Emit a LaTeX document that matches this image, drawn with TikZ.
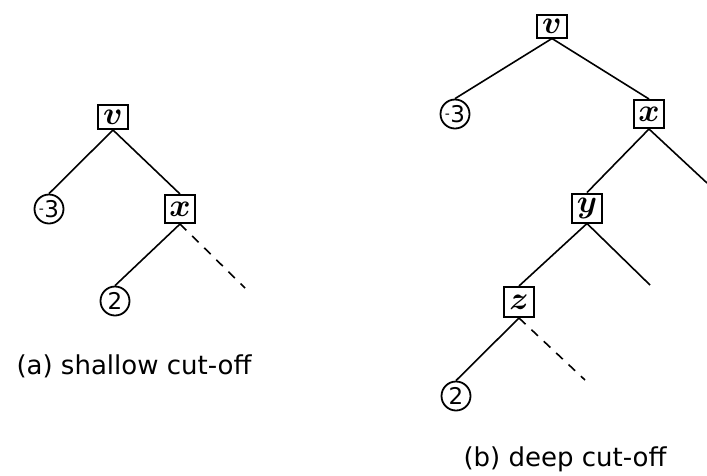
\documentclass[tikz,border=0pt]{standalone}
\usepackage{graphicx}
\usepackage{fontspec}
\newfontfamily\capfont{DejaVu Sans}
\newcommand\bigvar[1]{\scalebox{1.3}{$#1$}}
\newcommand\negthree{\raisebox{4pt}{\fontsize{14}{14}\selectfont -}\kern0.5pt 3}
\begin{document}
\begin{tikzpicture}[x=1pt,y=-1pt,
  edge/.style={line width=1.6pt},
  cutedge/.style={line width=1.6pt, dash pattern=on 9pt off 8pt},
  varbox/.style={draw, line width=2pt, inner sep=0pt, minimum width=30pt, minimum height=26pt,
    font=\fontsize{24.88}{25}\selectfont\boldmath},
  leaf/.style={draw, circle, line width=1.8pt, inner sep=0pt, minimum size=29pt,
    font=\capfont\fontsize{23}{23}\selectfont},
  caption/.style={font=\capfont\fontsize{26}{26}\selectfont, inner sep=0pt}]
\useasboundingbox (0,0) rectangle (707,475);
% (a) shallow cut-off
\node[varbox, minimum height=24pt] (lv) at (113,117) {\bigvar{v}};
\node[leaf] (lm3) at (49,209) {\negthree};
\node[varbox, minimum height=28pt] (lx) at (180,209) {\bigvar{x}};
\node[leaf] (l2) at (115,301) {2};
\coordinate (lcut) at (245,288);
\draw[edge] (lv.south) -- (lm3.north);
\draw[edge] (lv.south) -- (lx.north);
\draw[edge] (lx.south) -- (l2.north);
\draw[cutedge] (lx.south) -- (lcut);
\node[caption] (capa) at (134,366) {(a) shallow cut-off};
% (b) deep cut-off
\node[varbox, minimum height=23pt] (rv) at (552,26) {\bigvar{v}};
\node[leaf] (rm3) at (455,114) {\negthree};
\node[varbox, minimum height=28pt] (rx) at (649,114) {\bigvar{x}};
\coordinate (rxr) at (707,183);
\node[varbox, minimum height=29pt] (ry) at (587,208) {\bigvar{y}};
\coordinate (ryr) at (650,285);
\node[varbox, minimum height=30pt] (rz) at (519,302) {\bigvar{z}};
\node[leaf] (r2) at (456,396) {2};
\coordinate (rcut) at (585,380);
\draw[edge] (rv.south) -- (rm3.north);
\draw[edge] (rv.south) -- (rx.north);
\draw[edge] (rx.south) -- (ry.north);
\draw[edge] (rx.south) -- (rxr);
\draw[edge] (ry.south) -- (rz.north);
\draw[edge] (ry.south) -- (ryr);
\draw[edge] (rz.south) -- (r2.north);
\draw[cutedge] (rz.south) -- (rcut);
\node[caption] (capb) at (565,459) {(b) deep cut-off};
\end{tikzpicture}
\end{document}
